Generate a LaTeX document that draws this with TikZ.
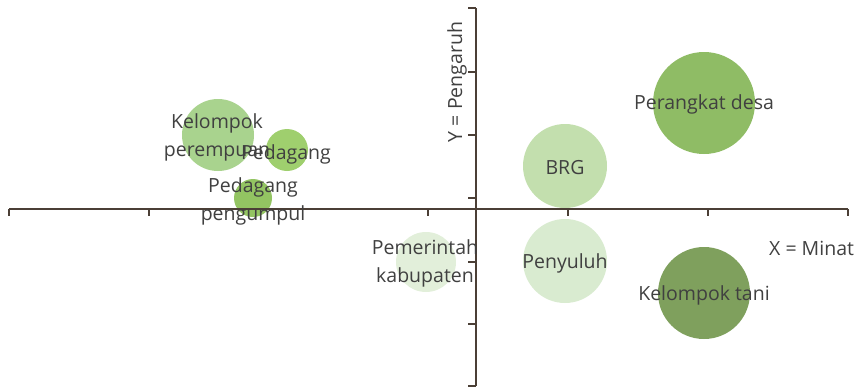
\documentclass[tikz,border=0pt]{standalone}
\usepackage{fontspec}
\setmainfont{Open Sans}
\definecolor{axiscol}{HTML}{4B3F36}
\definecolor{txt}{HTML}{404040}
\definecolor{cKP}{HTML}{A9D38E}
\definecolor{cPed}{HTML}{9FCF6E}
\definecolor{cPP}{HTML}{93C462}
\definecolor{cPK}{HTML}{E2EFDA}
\definecolor{cBRG}{HTML}{C3DFAE}
\definecolor{cPeny}{HTML}{D9EBD0}
\definecolor{cPD}{HTML}{8FBC65}
\definecolor{cKT}{HTML}{7FA05D}
\tikzset{
  bubble/.style={circle, inner sep=0pt, draw=none},
  lab/.style={text=txt, font=\fontsize{19.5}{28}\selectfont, align=center, inner sep=0pt},
  axisline/.style={draw=axiscol, line width=1.6pt},
}
\begin{document}
\begin{tikzpicture}[x=1pt,y=-1pt]
\useasboundingbox (0,0) rectangle (866,388);
% bubbles
\node[bubble, fill=cKP, minimum size=72pt] (kp) at (218,135) {};
\node[bubble, fill=cPed, minimum size=42pt] (ped) at (287,150) {};
\node[bubble, fill=cPP, minimum size=38pt] (pp) at (253,198) {};
\node[bubble, fill=cPK, minimum size=60pt] (pk) at (426,262) {};
\node[bubble, fill=cBRG, minimum size=84pt] (brg) at (565,166) {};
\node[bubble, fill=cPeny, minimum size=84pt] (peny) at (565,261) {};
\node[bubble, fill=cPD, minimum size=102pt] (pd) at (704,103) {};
\node[bubble, fill=cKT, minimum size=92pt] (kt) at (704,293) {};
% axes
\coordinate (xl) at (9,209);
\coordinate (xr) at (848,209);
\coordinate (yt) at (476,8);
\coordinate (yb) at (476,386);
\draw[axisline] (xl) -- (xr);
\draw[axisline] (yt) -- (yb);
\foreach \x in {9,149,428,568,708,848}
  \draw[axisline] (\x,209) -- (\x,216);
\foreach \y in {8,72,135,198,262,324,386}
  \draw[axisline] (476,\y) -- (468,\y);
% labels
\node[lab] (lkp) at (217,137) {Kelompok\\perempuan};
\node[lab] (lped) at (286,154) {Pedagang};
\node[lab] (lpp) at (253,201) {Pedagang\\pengumpul};
\node[lab] (lpk) at (425,263) {Pemerintah\\kabupaten};
\node[lab] (lbrg) at (565,168) {BRG};
\node[lab] (lpeny) at (565,263) {Penyuluh};
\node[lab] (lpd) at (704,104) {Perangkat desa};
\node[lab] (lkt) at (704,295) {Kelompok tani};
\node[lab, anchor=west] (lx) at (769,248) {X = Minat};
\node[lab, rotate=90] (ly) at (457,82) {Y = Pengaruh};
\end{tikzpicture}
\end{document}
